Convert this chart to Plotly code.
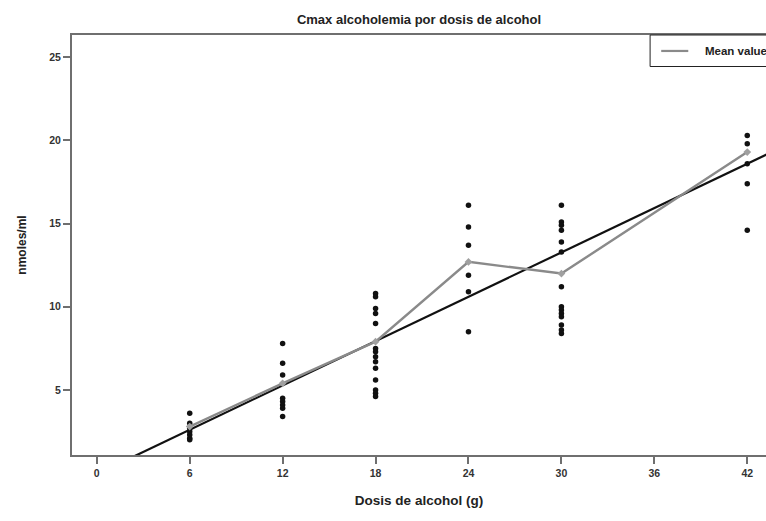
import plotly.graph_objects as go

# Alcohol dose groups (g) and the individual Cmax readings (nmoles/ml)
dose_groups = [6, 12, 18, 24, 30, 42]
cmax_6 = [3.6, 3.0, 2.7, 2.5, 2.3, 2.1, 2.0]
cmax_12 = [7.8, 6.6, 5.9, 4.5, 4.3, 4.1, 3.9, 3.4]
cmax_18 = [10.8, 10.6, 9.9, 9.6, 9.0, 7.5, 7.3, 7.0, 6.7, 6.3, 5.6, 5.0, 4.8, 4.6]
cmax_24 = [16.1, 14.8, 13.7, 11.9, 10.9, 8.5]
cmax_30 = [16.1, 15.1, 14.9, 14.6, 13.9, 13.3, 11.2, 10.0, 9.8, 9.6, 9.4, 8.9, 8.6, 8.4]
cmax_42 = [20.3, 19.8, 18.6, 17.4, 14.6]

# Group means and the straight-line fit across doses
mean_cmax = [2.8, 5.4, 7.9, 12.7, 12.0, 19.3]
fit_intercept = -0.06
fit_slope = 0.4443

x_ticks = [0, 6, 12, 18, 24, 30, 36, 42]
y_ticks = [5, 10, 15, 20, 25]
x_range = [-1.6, 43.21]
y_range = [1.09, 26.34]

groups = [cmax_6, cmax_12, cmax_18, cmax_24, cmax_30, cmax_42]
pts_x = [d for d, vals in zip(dose_groups, groups) for _ in vals]
pts_y = [v for vals in groups for v in vals]

FONT = "Liberation Sans, Arial, sans-serif"
FRAME = "#6f6f6f"

fig = go.Figure()

# individual observations
fig.add_trace(go.Scatter(
    x=pts_x, y=pts_y, mode="markers",
    marker=dict(symbol="circle", size=5.5, color="#111111"),
    showlegend=False, hoverinfo="x+y",
))

# fitted line spanning the whole axis
fx = [x_range[0] - 2, x_range[1] + 2]
fy = [fit_intercept + fit_slope * v for v in fx]
fig.add_trace(go.Scatter(
    x=fx, y=fy, mode="lines",
    line=dict(color="#111111", width=2.2),
    showlegend=False, hoverinfo="skip",
))

# mean value profile
fig.add_trace(go.Scatter(
    x=dose_groups, y=mean_cmax, mode="lines+markers",
    line=dict(color="#8a8a8a", width=2.4),
    marker=dict(symbol="diamond", size=6, color="#a0a0a0"),
    showlegend=False,
))

# legend box in the top-right corner
fig.add_shape(type="rect", xref="paper", yref="paper",
              x0=0.833, x1=1.02, y0=0.925, y1=1.0,
              line=dict(color="#222222", width=1), fillcolor="white", layer="above")
fig.add_shape(type="line", xref="paper", yref="paper",
              x0=0.849, x1=0.888, y0=0.962, y1=0.962,
              line=dict(color="#8a8a8a", width=2.2), layer="above")
fig.add_annotation(xref="paper", yref="paper", x=0.909, y=0.962,
                   xanchor="left", yanchor="middle", showarrow=False,
                   text="Mean value",
                   font=dict(family=FONT, size=11.5, color="#222222", weight="bold"))

fig.update_layout(
    width=766, height=521,
    margin=dict(l=72, r=0, t=35, b=66),
    paper_bgcolor="white", plot_bgcolor="white",
    title=dict(text="Cmax alcoholemia por dosis de alcohol",
               x=0.5, xanchor="center", xref="paper", y=0.962, yanchor="middle",
               font=dict(family=FONT, size=13, color="#222222", weight="bold")),
    xaxis=dict(
        range=x_range, tickmode="array", tickvals=x_ticks,
        ticktext=[str(t) for t in x_ticks],
        showgrid=False, zeroline=False,
        showline=True, linecolor=FRAME, linewidth=2, mirror=True,
        ticks="outside", ticklen=7, tickwidth=1.5, tickcolor=FRAME,
        tickfont=dict(family=FONT, size=10.5, color="#333333", weight="bold"),
        title=dict(text="Dosis de alcohol (g)", standoff=18,
                   font=dict(family=FONT, size=13.5, color="#222222", weight="bold")),
    ),
    yaxis=dict(
        range=y_range, tickmode="array", tickvals=y_ticks,
        ticktext=[str(t) for t in y_ticks],
        showgrid=False, zeroline=False,
        showline=True, linecolor=FRAME, linewidth=2, mirror=False,
        ticks="outside", ticklen=7, tickwidth=1.5, tickcolor=FRAME,
        tickfont=dict(family=FONT, size=10.5, color="#333333", weight="bold"),
        title=dict(text="nmoles/ml", standoff=20,
                   font=dict(family=FONT, size=12, color="#222222", weight="bold")),
    ),
)

fig.write_html("out.html")
